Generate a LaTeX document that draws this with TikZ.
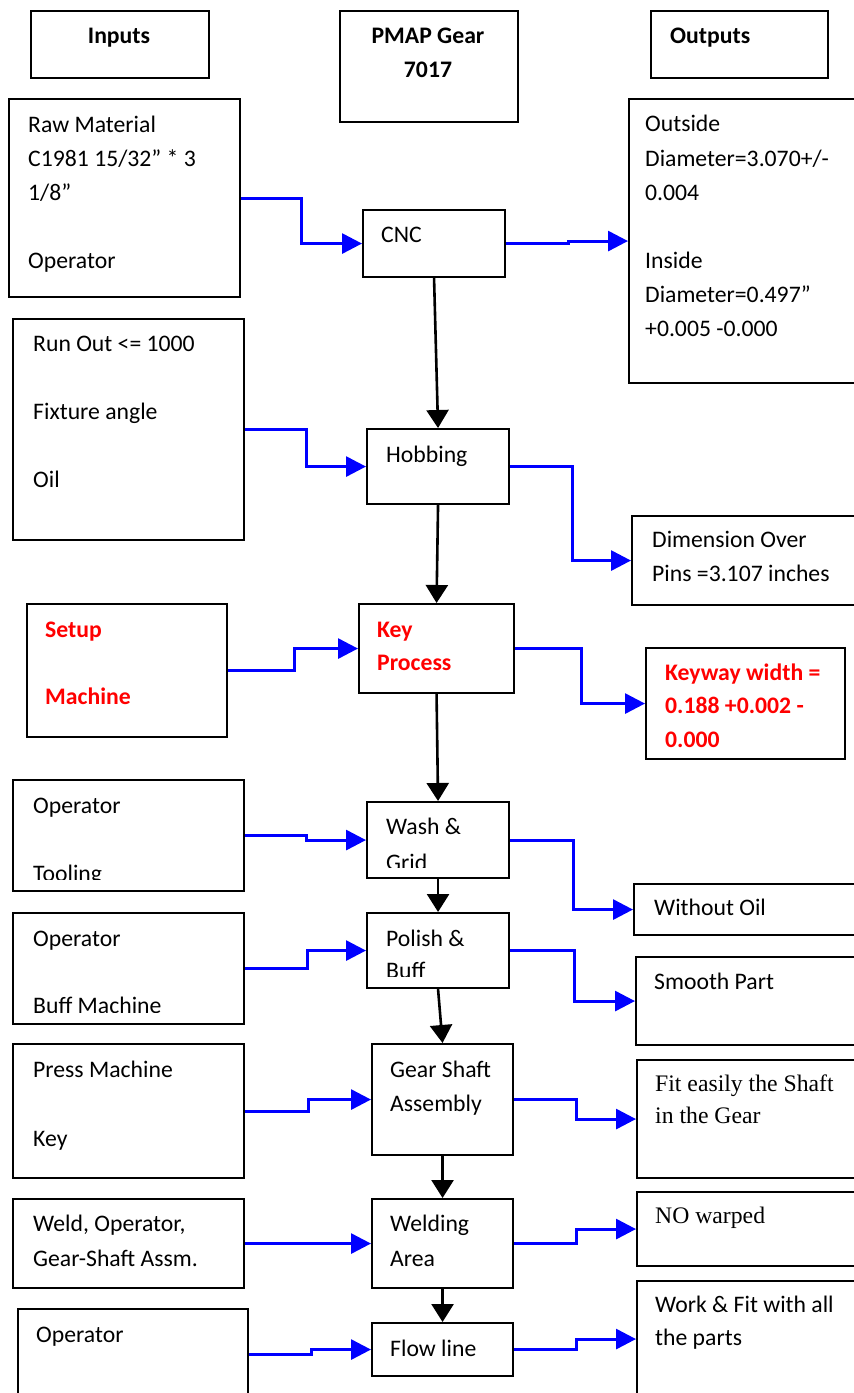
\documentclass[tikz,border=0pt]{standalone}
\usepackage{fontspec}
\setmainfont{Carlito}
\newfontfamily\timesfont{Liberation Serif}
\usetikzlibrary{arrows.meta}
\definecolor{arrblue}{RGB}{0,0,255}
\definecolor{txtred}{RGB}{255,0,0}
\begin{document}
\begin{tikzpicture}[x=1pt,y=-1pt,
  box/.style={draw=black, line width=2.1pt, inner sep=0pt, anchor=north west},
  txt/.style={anchor=base west, inner sep=0pt, font=\fontsize{23.7}{28}\selectfont},
  ctxt/.style={txt, anchor=base, font=\fontsize{23.7}{28}\selectfont\bfseries},
  btxt/.style={txt, font=\fontsize{23.7}{28}\selectfont\bfseries},
  rtxt/.style={txt, text=txtred, font=\fontsize{23.7}{28}\selectfont\bfseries},
  stxt/.style={txt, font=\fontsize{23.7}{28}\timesfont},
  inarr/.style={draw=arrblue, line width=3pt, -{Triangle[length=20pt,width=20pt]}},
  downarr/.style={draw=black, line width=2.6pt, -{Triangle[length=18pt,width=22pt]}}]
\useasboundingbox (0,0) rectangle (854,1393);
\clip (0,0) rectangle (854,1393);
% header boxes
\node[box, minimum width=178, minimum height=67] (inputs) at (30,10) {};
\node[box, minimum width=178, minimum height=111] (pmap) at (339,10) {};
\node[box, minimum width=177, minimum height=67] (outputs) at (650,10) {};
\node[ctxt] (inputs-t) at (119,43) {Inputs};
\node[ctxt] (pmap-t1) at (428,43) {PMAP Gear};
\node[ctxt] (pmap-t2) at (428,77) {7017};
\node[btxt] (outputs-t) at (670,43) {Outputs};
% left input boxes
\node[box, minimum width=231, minimum height=198] (raw) at (8,98) {};
\node[box, minimum width=231, minimum height=221] (ro) at (12,318) {};
\node[box, minimum width=200, minimum height=133] (setup) at (26,603) {};
\node[box, minimum width=231, minimum height=111] (op1) at (12,779) {};
\node[box, minimum width=231, minimum height=111] (op2) at (12,912) {};
\node[box, minimum width=231, minimum height=134] (press) at (12,1043) {};
\node[box, minimum width=231, minimum height=89] (wi) at (12,1198) {};
\node[box, minimum width=230, minimum height=90] (op3) at (17,1308) {};
% process boxes
\node[box, minimum width=142, minimum height=67] (cnc) at (362,209) {};
\node[box, minimum width=142, minimum height=75] (hob) at (366,428) {};
\node[box, minimum width=155, minimum height=89] (key) at (358,603) {};
\node[box, minimum width=142, minimum height=76] (wash) at (366,801) {};
\node[box, minimum width=142, minimum height=75] (pol) at (366,912) {};
\node[box, minimum width=141, minimum height=111] (gs) at (371,1043) {};
\node[box, minimum width=141, minimum height=89] (weld) at (371,1198) {};
\node[box, minimum width=141, minimum height=53] (flow) at (371,1322) {};
% output boxes
\node[box, minimum width=252, minimum height=284] (out1) at (628,98) {};
\node[box, minimum width=249, minimum height=89] (dim) at (631,515) {};
\node[box, minimum width=199, minimum height=111] (kw) at (645,647) {};
\node[box, minimum width=247, minimum height=51] (wo) at (633,883) {};
\node[box, minimum width=245, minimum height=88] (sm) at (635,956) {};
\node[box, minimum width=244, minimum height=118] (fit) at (636,1059) {};
\node[box, minimum width=244, minimum height=74] (nw) at (636,1191) {};
\node[box, minimum width=244, minimum height=116] (work) at (636,1280) {};
% texts: inputs
\node[txt] (raw-t1) at (28,132) {Raw Material};
\node[txt] (raw-t2) at (28,166) {C1981 15/32” * 3};
\node[txt] (raw-t3) at (28,200) {1/8”};
\node[txt] (raw-t4) at (28,268) {Operator};
\node[txt] (ro-t1) at (33,351) {Run Out <= 1000};
\node[txt] (ro-t2) at (33,419) {Fixture angle};
\node[txt] (ro-t3) at (33,487) {Oil};
\node[rtxt] (setup-t1) at (45,637) {Setup};
\node[rtxt] (setup-t2) at (45,704) {Machine};
\node[txt] (op1-t1) at (33,813) {Operator};
\begin{scope}
\clip (12,779) rectangle (243,879);
\node[txt] (op1-t2) at (33,881) {Tooling};
\end{scope}
\node[txt] (op2-t1) at (33,946) {Operator};
\begin{scope}
\clip (12,912) rectangle (243,1012);
\node[txt] (op2-t2) at (33,1013) {Buff Machine};
\end{scope}
\node[txt] (press-t1) at (33,1077) {Press Machine};
\node[txt] (press-t2) at (33,1146) {Key};
\node[txt] (wi-t1) at (33,1231) {Weld, Operator,};
\node[txt] (wi-t2) at (33,1266) {Gear-Shaft Assm.};
\node[txt] (op3-t1) at (36,1342) {Operator};
% texts: processes
\node[txt] (cnc-t) at (381,242) {CNC};
\node[txt] (hob-t) at (386,462) {Hobbing};
\node[rtxt] (key-t1) at (377,637) {Key};
\node[rtxt] (key-t2) at (377,670) {Process};
\node[txt] (wash-t1) at (386,834) {Wash \&};
\begin{scope}
\clip (366,801) rectangle (508,867);
\node[txt] (wash-t2) at (386,870) {Grid};
\end{scope}
\node[txt] (pol-t1) at (386,946) {Polish \&};
\begin{scope}
\clip (366,912) rectangle (508,976);
\node[txt] (pol-t2) at (386,978) {Buff};
\end{scope}
\node[txt] (gs-t1) at (390,1077) {Gear Shaft};
\node[txt] (gs-t2) at (390,1111) {Assembly};
\node[txt] (weld-t1) at (390,1231) {Welding};
\node[txt] (weld-t2) at (390,1266) {Area};
\node[txt] (flow-t) at (390,1356) {Flow line};
% texts: outputs
\node[txt] (out1-t1) at (645,131) {Outside};
\node[txt] (out1-t2) at (645,166) {Diameter=3.070+/-};
\node[txt] (out1-t3) at (645,200) {0.004};
\node[txt] (out1-t4) at (645,268) {Inside};
\node[txt] (out1-t5) at (645,302) {Diameter=0.497”};
\node[txt] (out1-t6) at (645,336) {+0.005 -0.000};
\node[txt] (dim-t1) at (652,547) {Dimension Over};
\node[txt] (dim-t2) at (652,581) {Pins =3.107 inches};
\node[rtxt] (kw-t1) at (665,680) {Keyway width =};
\node[rtxt] (kw-t2) at (665,713) {0.188 +0.002 -};
\node[rtxt] (kw-t3) at (665,747) {0.000};
\node[txt] (wo-t) at (654,915) {Without Oil};
\node[txt] (sm-t) at (654,989) {Smooth Part};
\node[stxt] (fit-t1) at (655,1091) {Fit easily the Shaft};
\node[stxt] (fit-t2) at (655,1123) {in the Gear};
\node[stxt] (nw-t) at (655,1223) {NO warped};
\node[txt] (work-t1) at (655,1312) {Work \& Fit with all};
\node[txt] (work-t2) at (655,1345) {the parts};
% input arrows
\draw[inarr] (raw.east) -- ++(60,0) |- (cnc.west);
\draw[inarr] (ro.east) -- ++(61,0) |- (hob.west);
\draw[inarr] (setup.east) -- ++(66,0) |- (key.west);
\draw[inarr] (op1.east) -- ++(61,0) |- (wash.west);
\draw[inarr] (op2.east) -- ++(62,0) |- (pol.west);
\draw[inarr] (press.east) -- ++(63,0) |- (gs.west);
\draw[inarr] (wi.east) -- (weld.west);
\draw[inarr] (op3.east) -- ++(62,0) |- (flow.west);
% output arrows
\draw[inarr] (cnc.east) -- ++(62,0) |- (out1.west);
\draw[inarr] (hob.east) -- ++(62,0) |- (dim.west);
\draw[inarr] (key.east) -- ++(66,0) |- (kw.west);
\draw[inarr] (wash.east) -- ++(63,0) |- (wo.west);
\draw[inarr] (pol.east) -- ++(64,0) |- (sm.west);
\draw[inarr] (gs.east) -- ++(62,0) |- (fit.west);
\draw[inarr] (weld.east) -- ++(62,0) |- (nw.west);
\draw[inarr] (flow.east) -- ++(62,0) |- (work.west);
% process flow arrows
\draw[downarr] (cnc.south) -- (hob.north);
\draw[downarr] (hob.south) -- (key.north);
\draw[downarr] (key.south) -- (wash.north);
\draw[downarr] (wash.south) -- (pol.north);
\draw[downarr] (pol.south) -- (gs.north);
\draw[downarr] (gs.south) -- (weld.north);
\draw[downarr] (weld.south) -- (flow.north);
\end{tikzpicture}
\end{document}
